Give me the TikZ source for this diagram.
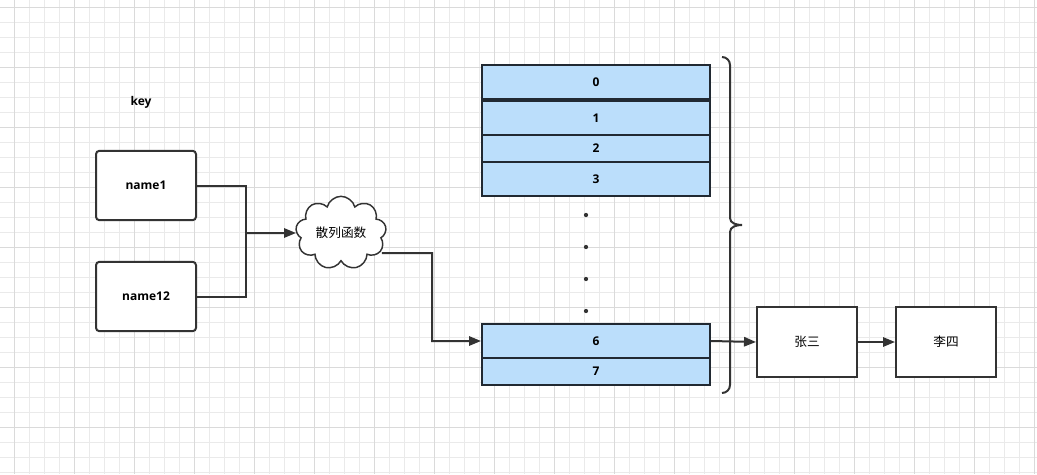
\documentclass[tikz,border=0pt]{standalone}
\usepackage{fontspec}
\setmainfont{Open Sans}
\newfontfamily\cjk{Noto Sans CJK SC}
\usetikzlibrary{arrows.meta,shapes.symbols}

\definecolor{gridminor}{RGB}{234,234,234}
\definecolor{gridmajor}{RGB}{218,218,218}
\definecolor{cellblue}{RGB}{187,222,251}
\definecolor{inkdark}{RGB}{51,51,51}
\definecolor{celledge}{RGB}{33,41,50}

\newcommand{\diagfont}{\fontsize{9}{11}\selectfont}

\tikzset{
  keybox/.style={draw=inkdark, line width=1.5pt, rounded corners=2.5pt, fill=white,
    minimum width=75pt, minimum height=52pt, font=\diagfont\bfseries},
  cellbox/.style={draw=celledge, line width=1.5pt, fill=cellblue, minimum width=171pt,
    inner sep=0pt, font=\diagfont\bfseries},
  listbox/.style={draw=inkdark, line width=1.5pt, fill=white, minimum width=75pt,
    minimum height=52.5pt, font=\fontsize{9.5}{11}\cjk},
  link/.style={draw=inkdark, line width=1.5pt, -{Triangle[length=9pt,width=7pt]}},
}

\begin{document}
\begin{tikzpicture}[x=0.75pt, y=-0.75pt]
    \useasboundingbox (0,0) rectangle (1037,474);

    % Background grid
    \foreach \x in {14,29,...,1034} {
        \draw [gridminor, line width=0.5pt] (\x,0) -- (\x,474);
    }
    \foreach \y in {7,22,...,472} {
        \draw [gridminor, line width=0.5pt] (0,\y) -- (1037,\y);
    }
    \foreach \x in {14,74,...,1034} {
        \draw [gridmajor, line width=0.5pt] (\x,0) -- (\x,474);
    }
    \foreach \y in {7,67,...,472} {
        \draw [gridmajor, line width=0.5pt] (0,\y) -- (1037,\y);
    }

    % Keys
    \node [font=\diagfont\bfseries] (keylabel) at (141,102) {key};
    \node [keybox] (name1) at (146,185.5) {name1};
    \node [keybox] (name12) at (146,296.5) {name12};

    % Hash function
    \node [cloud, cloud puffs=9, aspect=1.3, draw=inkdark, line width=1.1pt, fill=white,
        minimum width=68pt, minimum height=55pt, inner sep=0pt,
        font=\fontsize{9.5}{11}\cjk] (hash) at (341,233) {散列函数};

    \coordinate (join) at (246,233);
    \draw [inkdark, line width=1.5pt] (name1.east) -| (join);
    \draw [inkdark, line width=1.5pt] (name12.east) -| (join);
    \draw [link] (join) -- (hash.west);

    % Buckets
    \foreach \lab/\yc/\h in {0/82/25.5, 1/118/25.5, 2/148.5/20.25, 3/179/25.5,
        6/341/25.5, 7/371.5/20.25} {
        \node [cellbox, minimum height=\h pt] (cell\lab) at (596,\yc) {\lab};
    }
    \foreach \y in {215,247,279,311} {
        \fill [inkdark] (586,\y) circle (1.6pt);
    }

    \coordinate (hashout) at ([xshift=-3pt,yshift=-15pt]hash.east);
    \draw [link] (hashout) -- (432,253) |- (cell6.west);

    % Brace round the table
    \draw [inkdark, line width=1.5pt] (722,57) to[out=0,in=90] (730,65) -- (730,218)
        to[out=-90,in=180] (742,225) to[out=180,in=90] (730,232) -- (730,385)
        to[out=-90,in=0] (722,393);

    % Linked list
    \node [listbox] (zhang) at (807,342) {张三};
    \node [listbox] (li) at (946,342) {李四};
    \draw [link] (cell6.east) -- (zhang.west);
    \draw [link] (zhang) -- (li);

\end{tikzpicture}
\end{document}
